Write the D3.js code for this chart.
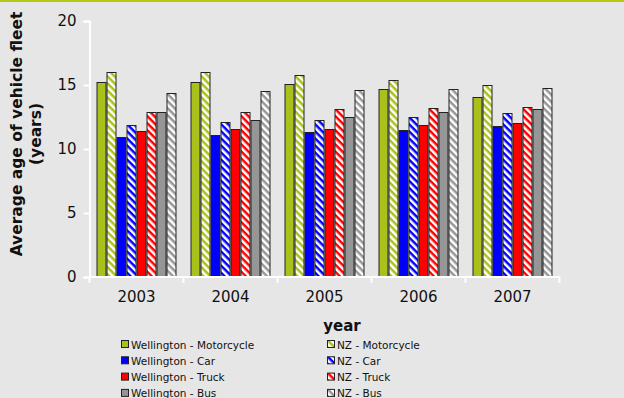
<!DOCTYPE html>
<html lang="en">
<head>
  <meta charset="UTF-8">
  <title>Average age of vehicle fleet</title>
  <style>
    body { margin: 0; background: #e6e6e6; }
    svg { display: block; font-family: "DejaVu Sans", Verdana, sans-serif; }
  </style>
</head>
<body>
  <svg id="svg" width="624" height="398"></svg>

  <script src="https://d3js.org/d3.v7.min.js"></script>
  <script>
    const years = ['2003', '2004', '2005', '2006', '2007']
    const seriesNames = [
      'Wellington - Motorcycle', 'NZ - Motorcycle',
      'Wellington - Car', 'NZ - Car',
      'Wellington - Truck', 'NZ - Truck',
      'Wellington - Bus', 'NZ - Bus'
    ]
    const wellingtonMotorcycle = [15.2, 15.2, 15.1, 14.7, 14.1]
    const nzMotorcycle = [16.0, 16.0, 15.8, 15.4, 15.0]
    const wellingtonCar = [10.9, 11.1, 11.3, 11.5, 11.8]
    const nzCar = [11.9, 12.1, 12.3, 12.5, 12.8]
    const wellingtonTruck = [11.4, 11.6, 11.6, 11.9, 12.0]
    const nzTruck = [12.9, 12.9, 13.1, 13.2, 13.3]
    const wellingtonBus = [12.9, 12.3, 12.5, 12.9, 13.1]
    const nzBus = [14.4, 14.5, 14.6, 14.7, 14.8]
    const yTicks = [0, 5, 10, 15, 20]

    const seriesValues = [wellingtonMotorcycle, nzMotorcycle, wellingtonCar, nzCar,
      wellingtonTruck, nzTruck, wellingtonBus, nzBus]
    const colors = ['#a9c11a', '#a9c11a', '#0000ff', '#0000ff', '#ff0000', '#ff0000', '#969696', '#969696']
    const hatched = [false, true, false, true, false, true, false, true]

    const svg = d3.select('#svg')

    // top rule
    svg.append('rect').attr('x', 0).attr('y', 0).attr('width', 624).attr('height', 2).attr('fill', '#b3c80f')

    // hatch patterns
    const defs = svg.append('defs')
    seriesNames.forEach((s, i) => {
      if (!hatched[i]) return
      const p = defs.append('pattern')
        .attr('id', 'hatch' + i)
        .attr('patternUnits', 'userSpaceOnUse')
        .attr('width', 5).attr('height', 5)
        .attr('patternTransform', 'rotate(45)')
      p.append('rect').attr('width', 5).attr('height', 5).attr('fill', '#fff')
      p.append('rect').attr('width', 5).attr('height', 2.5).attr('fill', colors[i])
    })
    const fillFor = i => hatched[i] ? `url(#hatch${i})` : colors[i]

    const margin = { top: 21, left: 89.5, bottom: 277, right: 559.5 }

    const x = d3.scaleBand()
      .domain(years)
      .range([margin.left, margin.right])
      .paddingInner(0.149)
      .paddingOuter(0.0745)
    const xs = d3.scaleBand()
      .domain(d3.range(seriesNames.length))
      .range([0, x.bandwidth()])
    const y = d3.scaleLinear()
      .domain([0, 20])
      .range([margin.bottom, margin.top])

    // bars
    const groups = svg.append('g').selectAll('g')
      .data(years)
      .enter()
      .append('g')
      .attr('transform', d => `translate(${x(d)},0)`)
    groups.selectAll('rect')
      .data((d, yi) => seriesValues.map((vals, si) => ({ si, v: vals[yi] })))
      .enter()
      .append('rect')
      .attr('x', d => xs(d.si) + 0.5)
      .attr('y', d => Math.round(y(d.v)) + 0.5)
      .attr('width', xs.bandwidth() - 1)
      .attr('height', d => margin.bottom - Math.round(y(d.v)) - 0.5)
      .attr('fill', d => fillFor(d.si))
      .attr('stroke', '#222')
      .attr('stroke-width', 1)

    // axes (white)
    const leftAxis = d3.axisLeft(y).tickValues(yTicks).tickSize(6).tickPadding(7)
    const gy = svg.append('g').attr('transform', `translate(${margin.left},0)`).call(leftAxis)
    const bottomAxis = d3.axisBottom(x).tickSize(0).tickPadding(14)
    const gx = svg.append('g').attr('transform', `translate(0,${margin.bottom})`).call(bottomAxis)
    // category divider ticks
    const dividers = d3.range(years.length + 1).map(i => margin.left + i * x.step())
    gx.selectAll('.div')
      .data(dividers)
      .enter()
      .append('line')
      .attr('x1', d => d).attr('x2', d => d)
      .attr('y1', 0).attr('y2', 6)
      .attr('stroke', '#fff').attr('stroke-width', 2)

    ;[gy, gx].forEach(g => {
      g.select('.domain').attr('stroke', '#fff').attr('stroke-width', 2)
      g.selectAll('.tick line').attr('stroke', '#fff').attr('stroke-width', 2)
      g.selectAll('.tick text').attr('fill', '#111').style('font-size', '15px')
        .style('font-family', '"DejaVu Sans", Verdana, sans-serif')
    })
    gx.select('.domain').attr('d', `M${margin.left},0H${margin.right}`)

    // axis titles
    svg.append('text')
      .attr('transform', 'translate(22,134) rotate(-90)')
      .attr('text-anchor', 'middle')
      .style('font-size', '15.5px').style('font-weight', 'bold').attr('fill', '#111')
      .text('Average age of vehicle fleet')
    svg.append('text')
      .attr('transform', 'translate(41,134) rotate(-90)')
      .attr('text-anchor', 'middle')
      .style('font-size', '15.5px').style('font-weight', 'bold').attr('fill', '#111')
      .text('(years)')
    svg.append('text')
      .attr('x', 342).attr('y', 331)
      .attr('text-anchor', 'middle')
      .style('font-size', '15px').style('font-weight', 'bold').attr('fill', '#111')
      .text('year')

    // legend
    const legend = svg.append('g')
    const items = legend.selectAll('g')
      .data(seriesNames)
      .enter()
      .append('g')
      .attr('transform', (d, i) => `translate(${i % 2 ? 327 : 121},${345 + Math.floor(i / 2) * 16.3})`)
    items.append('rect')
      .attr('x', 0.5).attr('y', -4.5).attr('width', 7).attr('height', 7)
      .attr('fill', (d, i) => fillFor(i))
      .attr('stroke', '#222')
    items.append('text')
      .attr('x', 10).attr('y', 3.5)
      .style('font-size', '10.5px').attr('fill', '#111')
      .text(d => d)
  </script>
</body>
</html>
